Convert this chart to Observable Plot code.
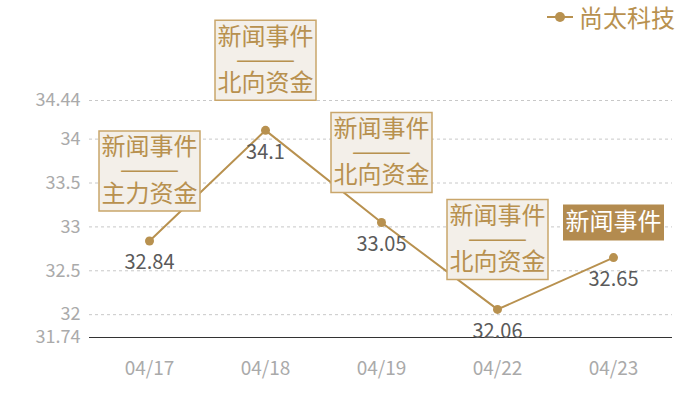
<!DOCTYPE html>
<html><head><meta charset="utf-8">
<script src="https://cdn.jsdelivr.net/npm/d3@7"></script>
<script src="https://cdn.jsdelivr.net/npm/@observablehq/plot@0.6"></script>
<style>
body{margin:0;background:#fff;}
#wrap{position:relative;width:700px;height:400px;font-family:"Noto Sans CJK SC","Noto Sans",sans-serif;}
#legend{position:absolute;top:0;right:25px;height:34px;line-height:34px;font-size:24px;color:#b8914f;display:flex;align-items:center;gap:6px;}
#legend svg{display:block;}
</style>
</head><body>
<div id="wrap"><div id="legend"></div></div>
<script>
const seriesName = "尚太科技";
const dates = ["04/17","04/18","04/19","04/22","04/23"];
const prices = [32.84, 34.1, 33.05, 32.06, 32.65];
const eventTitles = ["新闻事件","新闻事件","新闻事件","新闻事件","新闻事件"];
const eventTypes = ["主力资金","北向资金","北向资金","北向资金",""];
const yTicks = [31.74, 32, 32.5, 33, 33.5, 34, 34.44];

const gold = "#b8914f";
const font = `"Noto Sans CJK SC","Noto Sans",sans-serif`;

const data = dates.map((d, i) => ({date: d, price: prices[i], title: eventTitles[i], type: eventTypes[i]}));
const full = data.filter(d => d.type);
const short = data.filter(d => !d.type);

const tallBox = {draw(ctx) { ctx.rect(-50.5, -40, 101, 80); }};
const shortBox = {draw(ctx) { ctx.rect(-50.5, -18, 101, 36); }};

const chart = Plot.plot({
  width: 700, height: 400,
  marginTop: 100, marginBottom: 63, marginLeft: 89, marginRight: 28,
  style: {fontFamily: font, background: "#fff"},
  x: {type: "point", domain: dates, padding: 0.5, label: null},
  y: {domain: [31.74, 34.44], label: null},
  marks: [
    Plot.gridY(yTicks.slice(1), {stroke: "#c8c8c8", strokeOpacity: 1, strokeDasharray: "3,3"}),
    Plot.axisY(yTicks, {tickSize: 0, tickPadding: 9, fontSize: 18, color: "#aaa", tickFormat: d => String(d), label: null}),
    Plot.axisX({tickSize: 0, tickPadding: 24, fontSize: 19, color: "#aaa", label: null}),
    Plot.ruleY([31.74], {stroke: "#333", strokeWidth: 1.2}),
    Plot.line(data, {x: "date", y: "price", stroke: gold, strokeWidth: 2}),
    Plot.dot(data, {x: "date", y: "price", fill: gold, r: 4.5}),
    Plot.text(data, {x: "date", y: "price", text: d => String(d.price), dy: 22, fill: "#5a5a5a", fontSize: 20}),
    Plot.dot(full, {x: "date", y: "price", symbol: tallBox, r: 1, fill: "#f3efe9", stroke: "#c9a66b", strokeWidth: 1.5, dy: -70}),
    Plot.text(full, {x: "date", y: "price", text: d => d.title + "\n———\n" + d.type, dy: -70, lineAnchor: "middle", fontSize: 24, lineHeight: 0.97, fill: gold}),
    Plot.dot(short, {x: "date", y: "price", symbol: shortBox, r: 1, fill: "#b38b4f", dy: -35}),
    Plot.text(short, {x: "date", y: "price", text: "title", dy: -35, fontSize: 24, fill: "#fff"})
  ]
});
document.getElementById("wrap").prepend(chart);

const legend = document.getElementById("legend");
legend.innerHTML = `<svg width="26" height="12"><line x1="0" y1="6" x2="26" y2="6" stroke="${gold}" stroke-width="2"/><circle cx="13" cy="6" r="5" fill="${gold}"/></svg><span>${seriesName}</span>`;
</script>
</body></html>
